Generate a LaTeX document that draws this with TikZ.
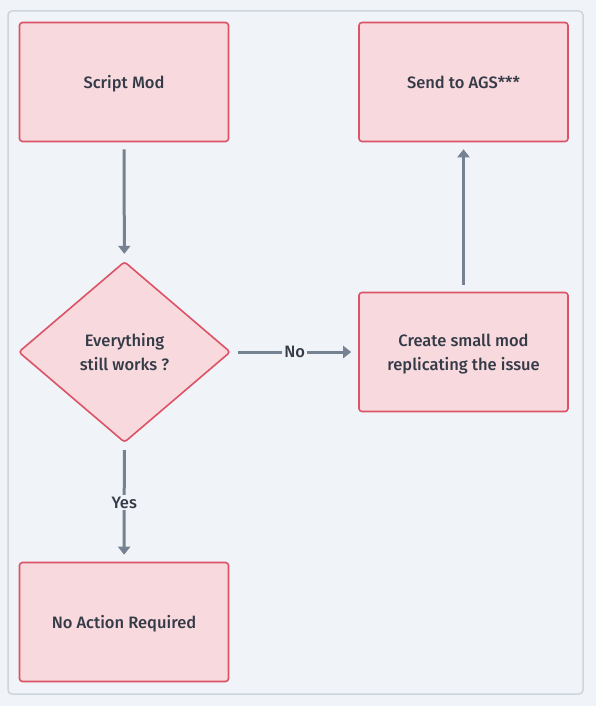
\documentclass[tikz,border=0pt]{standalone}
\usepackage{fontspec}
\setmainfont{Fira Sans}[BoldFont={Fira Sans Medium}]
\usetikzlibrary{shapes.geometric,arrows.meta}
\definecolor{bgc}{HTML}{F0F3F7}
\definecolor{framec}{HTML}{CDD5DD}
\definecolor{boxfill}{HTML}{F7D9DE}
\definecolor{boxline}{HTML}{DD5366}
\definecolor{arrowc}{HTML}{748291}
\definecolor{txtc}{HTML}{343B47}
\tikzset{
  x=1pt,y=-1pt,
  txt/.style={text=txtc,font=\fontsize{16.5}{24}\selectfont\bfseries},
  stepbox/.style={draw=boxline,fill=boxfill,line width=1.6pt,rounded corners=3pt,
    minimum width=209pt,minimum height=119pt,inner sep=0pt,align=center,text depth=0pt,txt},
  decision/.style={diamond,draw=boxline,fill=boxfill,line width=1.6pt,rounded corners=3pt,
    minimum width=212pt,minimum height=181pt,inner sep=0pt,align=center,aspect=1.17,text depth=0pt,txt},
  conn/.style={draw=arrowc,line width=3pt,-{Triangle[width=12pt,length=8pt]},shorten <=7pt,shorten >=7pt},
  lbl/.style={fill=bgc,inner sep=2pt,txt}
}
\begin{document}
\begin{tikzpicture}
\useasboundingbox (0,0) rectangle (596,706);
\fill[bgc] (0,0) rectangle (596,706);
\draw[framec,line width=1.5pt,rounded corners=4pt,fill=bgc] (8,11) rectangle (583,694);
\node[stepbox] (script) at (124,82) {Script Mod};
\node[stepbox] (send) at (463.5,82) {Send to AGS***};
\node[stepbox] (create) at (463.5,352) {Create small mod\\replicating the issue};
\node[stepbox] (noact) at (124,622) {No Action Required};
\node[decision] (dec) at (124.5,352) {Everything\\still works ?};
\draw[conn] (script) -- (dec);
\draw[conn] (dec) -- node[lbl] {Yes} (noact);
\draw[conn] (dec) -- node[lbl] {No} (create);
\draw[conn] (create) -- (send);
\end{tikzpicture}
\end{document}
